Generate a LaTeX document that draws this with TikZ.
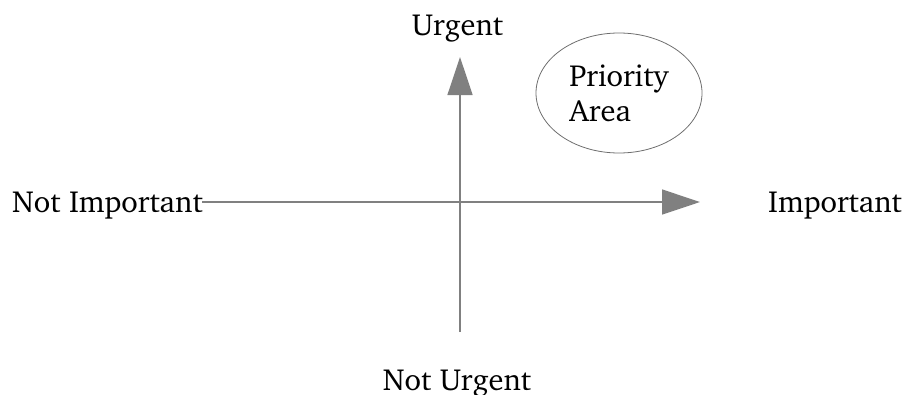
\documentclass[tikz,border=0pt]{standalone}
\usepackage[T1]{fontenc}
\renewcommand{\rmdefault}{bch}
\usetikzlibrary{arrows.meta,shapes.geometric}
\definecolor{axisgray}{RGB}{128,128,128}
\definecolor{rimgray}{RGB}{110,110,110}
\tikzset{
  lbl/.style={font=\fontsize{30.5}{35}\selectfont, inner sep=0pt, text=black},
  axisline/.style={draw=axisgray, line width=1.3pt,
    -{Triangle[length=38pt,width=25pt,fill=axisgray]}},
  areabubble/.style={ellipse, draw=rimgray, line width=0.8pt,
    minimum width=166pt, minimum height=120pt, inner sep=0pt, align=left,
    font=\fontsize{30.5}{35}\selectfont}
}
\begin{document}
\begin{tikzpicture}[x=1pt,y=-1pt]
\useasboundingbox (0,0) rectangle (905,394);
\node[lbl, anchor=base west] (notimp) at (12,212) {Not Important};
\node[lbl, anchor=base west] (imp) at (768,212) {Important};
\node[lbl, anchor=base] (urg) at (457.5,35) {Urgent};
\node[lbl, anchor=base] (noturg) at (457,390) {Not Urgent};
\node[areabubble] (prio) at (619,93) {Priority\\Area};
\coordinate (hl) at (202,202);
\coordinate (hr) at (700,202);
\coordinate (vb) at (460,332);
\coordinate (vt) at (460,57);
\draw[axisline] (hl) -- (hr);
\draw[axisline] (vb) -- (vt);
\end{tikzpicture}
\end{document}
